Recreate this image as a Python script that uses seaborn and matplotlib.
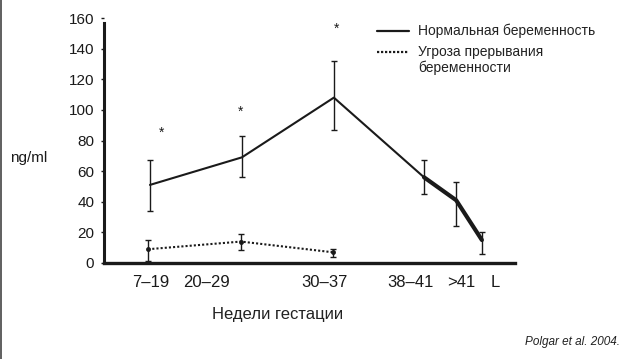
import matplotlib
matplotlib.use("Agg")
import matplotlib.pyplot as plt
from matplotlib.lines import Line2D
import seaborn as sns
import numpy as np

# ---- data ----
categories = ["7–19", "20–29", "30–37", "38–41", ">41", "L"]
x_pos = [1.0, 2.0, 3.0, 3.98, 4.33, 4.61]          # point positions along the gestation axis
tick_pos = [1.01, 1.61, 2.90, 3.83, 4.38, 4.75]    # tick label positions
normal_mean = [51, 69, 108, 56, 41, 15]
normal_upper = [67, 83, 132, 67, 53, 20]
normal_lower = [34, 56, 87, 45, 24, 6]
threat_x = [0.98, 1.99, 2.99]
threat_mean = [9, 14, 7]
threat_upper = [15, 19, 9]
threat_lower = [1, 8.5, 4]
star_x = [1.13, 1.98, 3.03]
star_y = [85, 99, 153]
legend_labels = ["Нормальная беременность", "Угроза прерывания\nбеременности"]
y_ticks = [0, 20, 40, 60, 80, 100, 120, 140, 160]

sns.set_theme(style="ticks")
plt.rcParams['font.family'] = ['Liberation Sans', 'DejaVu Sans']

W, H = 622, 359
fig = plt.figure(figsize=(W / 100, H / 100), dpi=100)
fig.patch.set_facecolor("white")
ax = fig.add_axes([104 / W, 1 - 263 / H, (515 - 104) / W, (263 - 18) / H])
ax.set_facecolor("white")

ink = "#1a1a1a"

# normal pregnancy
sns.lineplot(x=x_pos, y=normal_mean, ax=ax, color=ink, lw=1.5, sort=False,
             estimator=None, legend=False)
sns.lineplot(x=x_pos[3:], y=normal_mean[3:], ax=ax, color=ink, lw=3.0, sort=False,
             estimator=None, legend=False, solid_capstyle="round")
nm = np.array(normal_mean)
ax.errorbar(x_pos, normal_mean,
            yerr=[nm - np.array(normal_lower), np.array(normal_upper) - nm],
            fmt="none", ecolor=ink, elinewidth=1.0, capsize=2.3, capthick=1.0)

# threatened pregnancy
sns.lineplot(x=threat_x, y=threat_mean, ax=ax, color=ink, lw=1.5, sort=False,
             estimator=None, legend=False, linestyle=(0, (1, 1)),
             marker="o", markersize=3.5, markeredgewidth=0)
tm = np.array(threat_mean)
ax.errorbar(threat_x, threat_mean,
            yerr=[tm - np.array(threat_lower), np.array(threat_upper) - tm],
            fmt="none", ecolor=ink, elinewidth=1.0, capsize=2.3, capthick=1.0)

# significance stars
for sx, sy in zip(star_x, star_y):
    ax.text(sx, sy, "*", ha="center", va="center", fontsize=10, color=ink)

ax.set_xlim(0.5, 4.97)
ax.set_ylim(0, 160)
ax.set_yticks(y_ticks)
ax.set_yticklabels([str(t) for t in y_ticks])
ax.set_xticks(tick_pos)
ax.set_xticklabels(categories)

for s in ["top", "right"]:
    ax.spines[s].set_visible(False)
ax.spines["left"].set_linewidth(2.2)
ax.spines["bottom"].set_linewidth(2.4)
ax.spines["left"].set_color(ink)
ax.spines["bottom"].set_color(ink)
ax.spines["left"].set_bounds(0, 157)

ax.tick_params(axis="y", length=2.5, width=1.0, pad=4.5, labelsize=11, colors=ink)
ax.tick_params(axis="x", length=0, pad=8.5, labelsize=12, colors=ink)

ax.set_ylabel("ng/ml", rotation=0, fontsize=11, color=ink, ha="left", va="center")
ax.yaxis.set_label_coords((10 - 104) / 411, (263 - 158) / 245)
ax.set_xlabel("Недели гестации", fontsize=12, color="#222222", ha="center", va="center")
ax.xaxis.set_label_coords((278 - 104) / 411, (263 - 314) / 245)

# legend (drawn by hand so the dotted sample sits on the first text line)
fig.add_artist(Line2D([377 / W, 409 / W], [1 - 31 / H] * 2, color=ink, lw=1.6))
fig.add_artist(Line2D([377 / W, 409 / W], [1 - 52 / H] * 2, color=ink, lw=1.6,
                      linestyle=(0, (1, 0.8))))
fig.text(418 / W, 1 - 31 / H, legend_labels[0], fontsize=10, va="center", ha="left", color="#222222")
for i, line in enumerate(legend_labels[1].split("\n")):
    fig.text(418 / W, 1 - (52 + 16 * i) / H, line, fontsize=10, va="center", ha="left", color="#222222")

# source
fig.text(620 / W, 1 - 342 / H, "Polgar et al. 2004.", fontsize=8.5, style="italic",
         ha="right", va="center", color="#222222")

# left frame edge
fig.add_artist(Line2D([0.8 / W, 0.8 / W], [0, 1], color="#444444", lw=1.2))

fig.savefig("out.png", dpi=100, facecolor="white")
